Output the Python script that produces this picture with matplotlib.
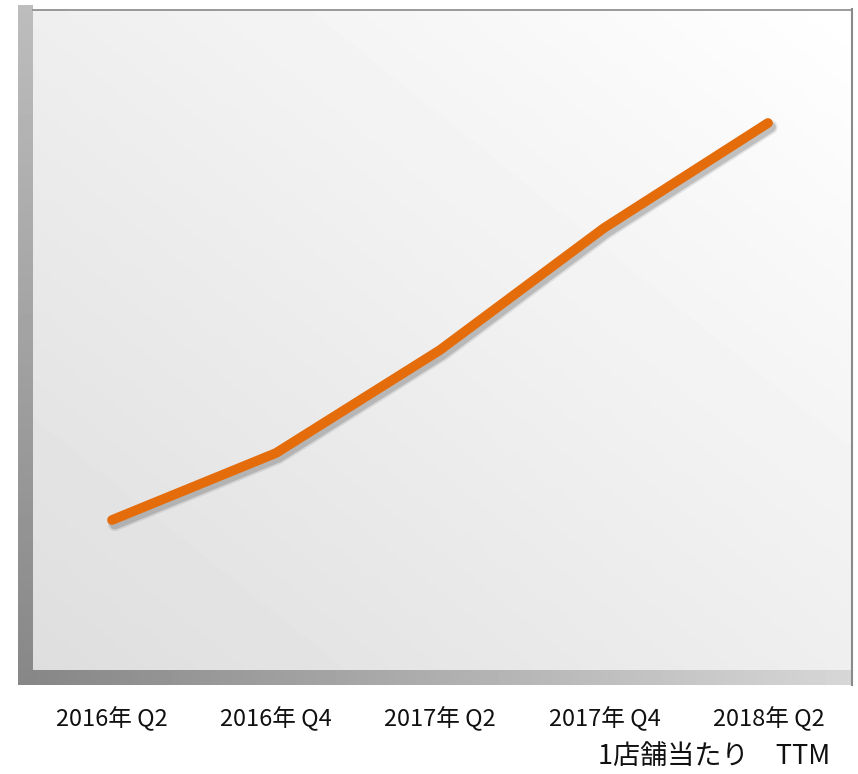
import numpy as np
import matplotlib
matplotlib.use("Agg")
import matplotlib.pyplot as plt
import matplotlib.patheffects as pe

plt.rcParams['font.family'] = ['Noto Sans CJK JP', 'DejaVu Sans']

quarters = ["2016年 Q2", "2016年 Q4", "2017年 Q2", "2017年 Q4", "2018年 Q2"]
values = [150, 217, 320, 442, 547]   # per-store TTM (index)
subtitle = "1店舗当たり\u3000TTM"

W, H = 858, 774
fig = plt.figure(figsize=(W / 100, H / 100), dpi=100)

# background axes in pixel coordinates
bg = fig.add_axes([0, 0, 1, 1])
bg.set_xlim(0, W)
bg.set_ylim(H, 0)
bg.axis("off")

# back panel: diagonal gradient (white top-right -> light gray bottom-left)
gx, gy = np.meshgrid(np.linspace(0, 1, 200), np.linspace(0, 1, 200))
g = (1 - gx) * 0.5 + gy * 0.5
panel = 1.0 - 0.13 * g
bg.imshow(panel, cmap="gray", vmin=0, vmax=1, extent=[33, 851, 670, 9],
          aspect="auto", zorder=1)

# left wall: vertical gradient
wall = np.linspace(0.74, 0.53, 200).reshape(-1, 1)
bg.imshow(wall, cmap="gray", vmin=0, vmax=1, extent=[18, 33, 685, 5],
          aspect="auto", zorder=2)

# floor: horizontal gradient
floor = np.linspace(0.53, 0.84, 200).reshape(1, -1)
bg.imshow(floor, cmap="gray", vmin=0, vmax=1, extent=[33, 851, 685, 670],
          aspect="auto", zorder=2)

# edges
bg.plot([33, 851], [9.5, 9.5], color="#8a8a8a", lw=1.2, zorder=3)
bg.plot([851.5, 851.5], [9, 685], color="#8a8a8a", lw=1.5, zorder=3)

# data axes over back panel
ax = fig.add_axes([33 / W, 1 - 670 / H, (851 - 33) / W, (670 - 9) / H])
ax.patch.set_alpha(0)
x = np.arange(len(quarters))
ax.plot(x, values, color="#E46C0A", lw=7, solid_capstyle="round",
        solid_joinstyle="round",
        path_effects=[pe.SimpleLineShadow(offset=(2, -3), shadow_color="#666666",
                                          alpha=0.15, linewidth=10),
                      pe.SimpleLineShadow(offset=(2, -3), shadow_color="#555555",
                                          alpha=0.25, linewidth=7.5),
                      pe.Normal()])
ax.set_xlim(-(112 - 33) / 164, 4 + (851 - 768) / 164)
ax.set_ylim(0, 661)
ax.axis("off")

for xi, q in zip([112, 276, 440, 605, 769], quarters):
    bg.text(xi, 719, q, ha="center", va="center", fontsize=17, color="#111111")

bg.text(830, 757, subtitle, ha="right", va="center", fontsize=19.5, color="#111111")

fig.savefig("out.png", dpi=100)
